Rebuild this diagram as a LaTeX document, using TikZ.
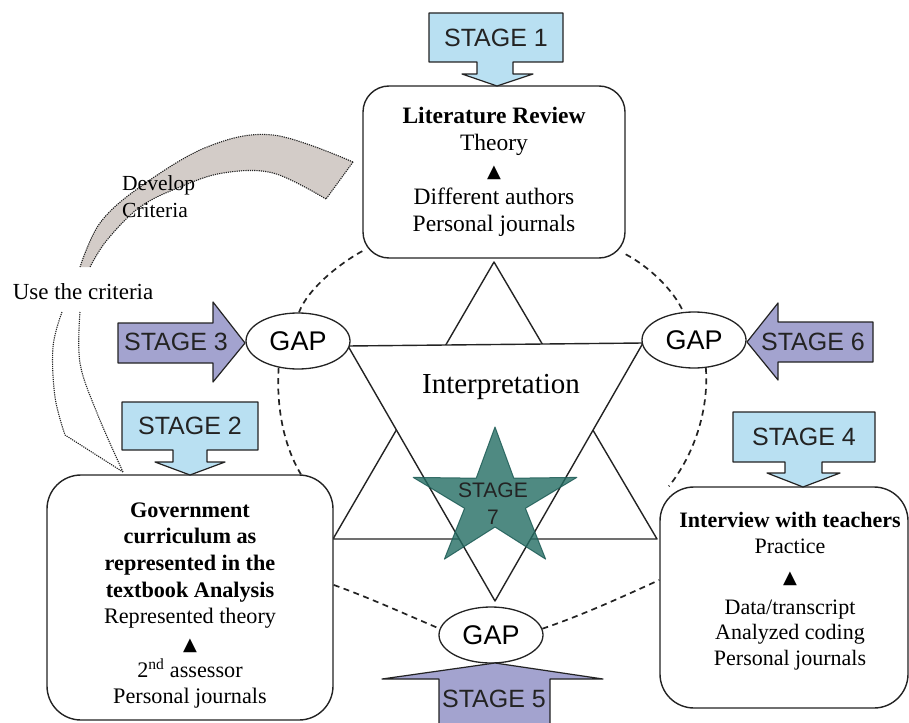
\documentclass[tikz,border=0pt]{standalone}
\usepackage{fontspec}
\setmainfont{Liberation Serif}
\newfontfamily\arial{Liberation Sans}
\newfontfamily\symfont{DejaVu Sans}
\usetikzlibrary{shapes.geometric}

\definecolor{stageblue}{RGB}{185,224,242}
\definecolor{stagepurple}{RGB}{163,163,207}
\definecolor{bandgray}{RGB}{211,204,200}
\definecolor{starteal}{RGB}{35,109,99}
\definecolor{stardark}{RGB}{30,92,86}
\definecolor{ink}{RGB}{35,35,35}

\newcommand{\fs}[2]{\fontsize{#1}{#2}\selectfont}
\newcommand{\uptri}{{\symfont\fs{18}{18}▲}}

\begin{document}
\begin{tikzpicture}[x=1pt,y=-1pt,line join=round,
  frame/.style={draw=ink,line width=1.4pt,rounded corners=26pt,fill=white,inner sep=0pt},
  gap/.style={ellipse,draw=ink,line width=1.3pt,fill=white,minimum width=104pt,
              minimum height=56pt,inner sep=0pt,font=\arial\fs{27}{30}},
  stagelabel/.style={font=\arial\fs{25}{28},inner sep=0pt,text=ink},
  bluecall/.style={fill=stageblue,draw=ink,line width=1.2pt},
  purplearrow/.style={fill=stagepurple,draw=ink,line width=1.2pt},
  tri/.style={draw=ink,line width=1.4pt},
  link/.style={draw=ink,line width=1.7pt,dash pattern=on 6pt off 4.5pt},
  dotline/.style={draw=ink,line width=1.1pt,dash pattern=on 1.2pt off 1pt},
  body/.style={font=\fs{22.2}{26.7},align=center,inner sep=0pt},
]
\useasboundingbox (0,0) rectangle (909,722);

% curved band "Develop Criteria"
\fill[bandgray] plot[smooth,tension=0.6] coordinates
  {(353,162) (273,135) (207,147) (140,187) (100,223) (80,267)}
  -- plot[smooth,tension=0.6] coordinates
  {(90,267) (107,240) (140,207) (180,187) (223,173) (273,173) (326,199)} -- cycle;
\draw[dotline] plot[smooth,tension=0.6] coordinates
  {(353,162) (273,135) (207,147) (140,187) (100,223) (80,267)};
\draw[dotline] plot[smooth,tension=0.6] coordinates
  {(326,199) (273,173) (223,173) (180,187) (140,207) (107,240) (90,267)};
\draw[dotline] (353,162) -- (326,199);
% lower part running down to the curriculum box
\draw[dotline] plot[smooth,tension=0.6] coordinates
  {(62,312) (53,347) (55,397) (65,435)} -- (123,472);
\draw[dotline] plot[smooth,tension=0.6] coordinates
  {(80,312) (80,363) (97,413) (123,472)};

% hexagram
\draw[tri] (494,262) -- (333,539) -- (657,539) -- cycle;
\draw[tri,fill=white] (348,346) -- (643,343) -- (495,601) -- cycle;
\node[font=\fs{29}{32},inner sep=0pt] (interp) at (501,387) {Interpretation};

% star of stage 7
\filldraw[fill=starteal,draw=stardark,fill opacity=0.8,draw opacity=0.85,line width=1pt]
  (495,427) -- (513.8,478.2) -- (576.8,477.4) -- (525.4,508.3) -- (545.6,559.1)
  -- (495,527) -- (444.4,559.1) -- (464.6,508.3) -- (413.2,477.4) -- (476.2,478.2) -- cycle;
\node[font=\arial\fs{21}{27},align=center,inner sep=0pt,text=ink] (s7) at (493,504) {STAGE\\7};

% boxes
\node[frame,minimum width=262pt,minimum height=172pt,body,font=\fs{23.5}{27}] (lit) at (494,172)
  {\textbf{Literature Review}\\Theory\\\uptri\\Different authors\\Personal journals};
\node[frame,minimum width=286pt,minimum height=245pt,rounded corners=34pt] (gov) at (190,597.5) {};
\node[body] (govtext) at (190,605.5)
  {\textbf{Government}\\\textbf{curriculum as}\\\textbf{represented in the}\\\textbf{textbook Analysis}\\
   Represented theory\\\uptri\\2\textsuperscript{nd} assessor\\Personal journals};
\node[frame,minimum width=248pt,minimum height=221pt,rounded corners=34pt] (intv) at (784,597.5) {};
\node[body,font=\fs{22}{25.5}] (intvtext) at (790,591)
  {\textbf{Interview with teachers}\\Practice\\[5pt]\uptri\\[5pt]Data/transcript\\Analyzed coding\\Personal journals};

% gaps
\node[gap] (gapL) at (298,341) {GAP};
\node[gap] (gapR) at (694,340) {GAP};
\node[gap] (gapB) at (491,635) {GAP};

% dashed links
\draw[link] (lit.211) .. controls (342,262) and (308,288) .. (gapL.88);
\draw[link] (lit.328) .. controls (648,266) and (674,290) .. (gapR.111);
\draw[link] (gapL.234) .. controls (276,410) and (285,448) .. (gov.48);
\draw[link] (gapR.293) .. controls (709,410) and (694,455) .. (intv.136);
\draw[link] (gov.5) .. controls (370,598) and (405,614) .. (gapB.173);
\draw[link] (gapB.7) .. controls (580,616) and (620,598) .. (intv.172);

% stage arrows
\draw[bluecall] (429,13) -- (563,13) -- (563,62) -- (513,62) -- (513,74) -- (533,74) -- (497,86)
  -- (462,74) -- (477,74) -- (477,62) -- (429,62) -- cycle;
\node[stagelabel] (s1) at (496,38) {STAGE 1};
\draw[bluecall] (122,402) -- (258,402) -- (258,450) -- (207,450) -- (207,462) -- (225,462) -- (190,475)
  -- (155,462) -- (173,462) -- (173,450) -- (122,450) -- cycle;
\node[stagelabel] (s2) at (190,426) {STAGE 2};
\draw[bluecall] (733,412) -- (875,412) -- (875,462) -- (822,462) -- (822,473) -- (840,473) -- (803,487)
  -- (767,473) -- (785,473) -- (785,462) -- (733,462) -- cycle;
\node[stagelabel] (s4) at (804,437) {STAGE 4};
\draw[purplearrow] (118,323) -- (213,323) -- (213,302) -- (245,343) -- (213,382) -- (213,363) -- (118,363) -- cycle;
\node[stagelabel] (s3) at (176,342) {STAGE 3};
\draw[purplearrow] (873,322) -- (778,322) -- (778,303) -- (747,342) -- (778,380) -- (778,362) -- (873,362) -- cycle;
\node[stagelabel] (s6) at (813,342) {STAGE 6};
\draw[purplearrow] (439,730) -- (439,679) -- (382,679) -- (495,663) -- (603,679) -- (550,679) -- (550,730);
\node[stagelabel] (s5) at (494,699) {STAGE 5};

% side labels
\node[font=\fs{21.5}{27},align=left,anchor=west,inner sep=0pt] (dev) at (122,196.5) {Develop\\Criteria};
\node[font=\fs{23}{27},inner sep=0pt] (use) at (83,292) {Use the criteria};
\end{tikzpicture}
\end{document}
